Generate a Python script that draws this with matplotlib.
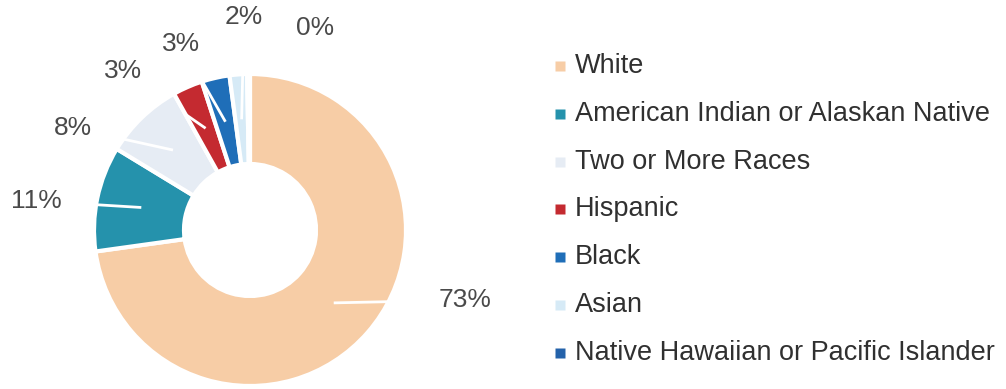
import numpy as np
import matplotlib
matplotlib.use("Agg")
import matplotlib.pyplot as plt

plt.rcParams['font.family'] = ['Liberation Sans', 'DejaVu Sans']

# enrollment share by race / ethnicity (percent)
groups = ['White', 'American Indian or Alaskan Native', 'Two or More Races',
          'Hispanic', 'Black', 'Asian', 'Native Hawaiian or Pacific Islander']
shares = [72.8, 10.9, 8.2, 3.1, 2.9, 1.8, 0.3]
colors = ['#f7cda6', '#2592ac', '#e6ecf4', '#c42a30', '#1f6eb8', '#d6eaf6', '#2462aa']

W, H = 1006, 389
cx, cy = 250, H - 230
R, ring = 156, 90

# where each percent label sits (pixel coords, y measured from top)
label_xy = [(465, 300), (36, 201), (73, 128), (123, 71), (181, 44), (244, 17), (315, 28)]

fig = plt.figure(figsize=(W / 100, H / 100), dpi=100)
ax = fig.add_axes([0, 0, 1, 1])

wedges, _ = ax.pie(shares, colors=colors, startangle=90, counterclock=False,
                   radius=R, center=(cx, cy),
                   wedgeprops=dict(width=ring, edgecolor='white', linewidth=3))

rmid = R - ring / 2
for w, val, (lx, ly) in zip(wedges, shares, label_xy):
    mid = np.deg2rad((w.theta1 + w.theta2) / 2)
    mx, my = cx + rmid * np.cos(mid), cy + rmid * np.sin(mid)
    # leader line in white, kept inside its own wedge
    ln, = ax.plot([mx, lx], [my, H - ly], color='white', lw=2, zorder=3,
                  solid_capstyle='butt')
    ln.set_clip_path(w)
    ax.text(lx, H - ly, f'{val:.0f}%', ha='center', va='center',
            fontsize=19, color='#4a4a4a', zorder=4)

# legend drawn by hand
for i, (g, c) in enumerate(zip(groups, colors)):
    y = H - (66 + i * 47.8)
    ax.plot(560, y, marker='s', ms=6.5, color=c, mec='none', zorder=4)
    ax.text(575, y, g, ha='left', va='center', fontsize=19.5, color='#303030')

ax.set_xlim(0, W)
ax.set_ylim(0, H)
ax.set_aspect('auto')
ax.axis('off')

fig.savefig('out.png', dpi=100, facecolor='white')
